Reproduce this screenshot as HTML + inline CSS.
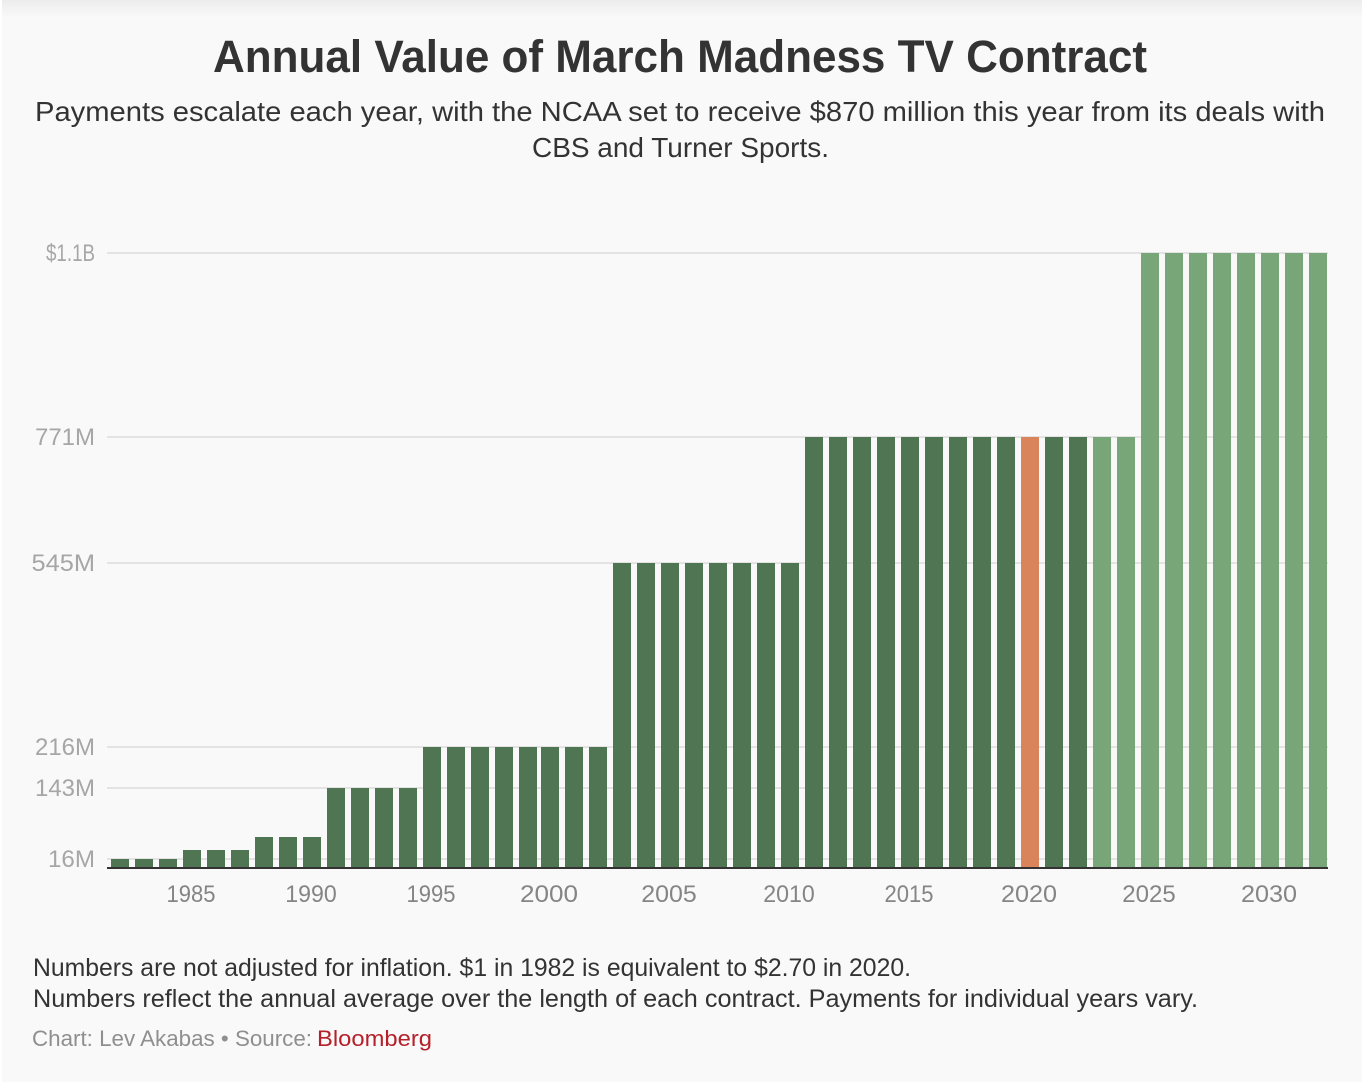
<!DOCTYPE html>
<html lang="en">
<head>
<meta charset="utf-8">
<title>Annual Value of March Madness TV Contract</title>
<style>
html,body{margin:0;padding:0;background:#f9f9f9;}
body{width:1362px;height:1082px;overflow:hidden;position:relative;}
svg{position:absolute;left:0;top:0;display:block;}
text{font-family:"Liberation Sans",sans-serif;}
</style>
</head>
<body>
<svg id="chart" width="1362" height="1082" viewBox="0 0 1362 1082" xmlns="http://www.w3.org/2000/svg">
  <defs>
    <linearGradient id="topShade" x1="0" y1="0" x2="0" y2="1">
      <stop offset="0" stop-color="#ececec"/>
      <stop offset="1" stop-color="#f9f9f9"/>
    </linearGradient>
  </defs>
  <rect x="0" y="0" width="1362" height="1082" fill="#f9f9f9"/>
  <rect x="0" y="0" width="1362" height="18" fill="url(#topShade)"/>
  <rect x="0" y="0" width="2" height="1082" fill="#ffffff"/>

  <text x="680" y="72" text-anchor="middle" font-size="45" font-weight="700" fill="#333333" textLength="934" lengthAdjust="spacingAndGlyphs">Annual Value of March Madness TV Contract</text>
  <text x="680" y="121" text-anchor="middle" font-size="28" fill="#333333" textLength="1290" lengthAdjust="spacingAndGlyphs">Payments escalate each year, with the NCAA set to receive $870 million this year from its deals with</text>
  <text x="680.5" y="157" text-anchor="middle" font-size="28" fill="#333333" textLength="297" lengthAdjust="spacingAndGlyphs">CBS and Turner Sports.</text>

  <g id="grid"></g>
  <g id="bars"></g>
  <rect x="107" y="867" width="1221" height="2" fill="#333333"/>
  <g id="yLabels"></g>
  <g id="xLabels"></g>

  <text x="33" y="976" font-size="25" fill="#333333" textLength="878" lengthAdjust="spacingAndGlyphs">Numbers are not adjusted for inflation. $1 in 1982 is equivalent to $2.70 in 2020.</text>
  <text x="33" y="1007" font-size="25" fill="#333333" textLength="1165" lengthAdjust="spacingAndGlyphs">Numbers reflect the annual average over the length of each contract. Payments for individual years vary.</text>
  <text x="32" y="1046" font-size="22.5" fill="#8f8f8f" textLength="280" lengthAdjust="spacingAndGlyphs">Chart: Lev Akabas • Source:</text>
  <text x="317" y="1046" font-size="22.5" fill="#b5202a" textLength="115" lengthAdjust="spacingAndGlyphs">Bloomberg</text>
</svg>
<script>
var years = [1982,1983,1984,1985,1986,1987,1988,1989,1990,1991,1992,1993,1994,1995,1996,1997,1998,1999,2000,2001,2002,2003,2004,2005,2006,2007,2008,2009,2010,2011,2012,2013,2014,2015,2016,2017,2018,2019,2020,2021,2022,2023,2024,2025,2026,2027,2028,2029,2030,2031,2032];
var payments = [16,16,16,31,31,31,54,54,54,143,143,143,143,216,216,216,216,216,216,216,216,545,545,545,545,545,545,545,545,771,771,771,771,771,771,771,771,771,771,771,771,771,771,1100,1100,1100,1100,1100,1100,1100,1100];
var currentYear = 2020;
var firstFutureYear = 2023;
var yTickValues = [16,143,216,545,771,1100];
var yTickLabels = ["16M","143M","216M","545M","771M","$1.1B"];
var xTickYears = [1985,1990,1995,2000,2005,2010,2015,2020,2025,2030];

var NS = "http://www.w3.org/2000/svg";
var firstYear = years[0];
var barWidth = 18;

// The source chart's band scale steps 24px per year and snaps 2px left at the century.
function xScale(year) {
  return 111 + (year - firstYear) * 24 - (year >= 2000 ? 2 : 0);
}
function yScale(value) {
  return Math.round(867.5 - value * 614.5 / 1100);
}
// Approximate glyph advances of the reference typeface, used to fit tick label widths.
function labelWidth(label) {
  var adv = {"0":15,"1":8.5,"2":13,"3":13,"4":14,"5":12.5,"6":14,"7":13.5,"8":14,"9":14,"M":24.5,"B":14,"$":13,".":5};
  var w = 0;
  String(label).split("").forEach(function (c) { w += adv[c] || 13; });
  return w;
}

var barsG = document.getElementById("bars");
var gridG = document.getElementById("grid");
var yG = document.getElementById("yLabels");
var xG = document.getElementById("xLabels");

yTickValues.forEach(function (v, i) {
  var line = document.createElementNS(NS, "rect");
  line.setAttribute("x", 107);
  line.setAttribute("width", 1221);
  line.setAttribute("y", yScale(v) - 1);
  line.setAttribute("height", 2);
  line.setAttribute("fill", "#e3e3e3");
  
  
  gridG.appendChild(line);

  var t = document.createElementNS(NS, "text");
  var w = labelWidth(yTickLabels[i]);
  t.setAttribute("x", 95 - w);
  t.setAttribute("y", yScale(v) + 8);
  t.setAttribute("font-size", 24.5);
  t.setAttribute("textLength", w);
  t.setAttribute("lengthAdjust", "spacingAndGlyphs");
  t.setAttribute("fill", "#a6a6a6");
  
  
  t.textContent = yTickLabels[i];
  yG.appendChild(t);
});

years.forEach(function (year, i) {
  var r = document.createElementNS(NS, "rect");
  var top = yScale(payments[i]);
  r.setAttribute("x", xScale(year));
  r.setAttribute("y", top);
  r.setAttribute("width", barWidth);
  r.setAttribute("height", 868 - top);
  r.setAttribute("fill", year === currentYear ? "#d9845b" : (year >= firstFutureYear ? "#79a678" : "#507553"));
  
  
  barsG.appendChild(r);
});

xTickYears.forEach(function (year) {
  var t = document.createElementNS(NS, "text");
  var w = labelWidth(year);
  t.setAttribute("x", xScale(year) + barWidth / 2 - 1 - w / 2);
  t.setAttribute("y", 902);
  t.setAttribute("font-size", 24.5);
  t.setAttribute("textLength", w);
  t.setAttribute("lengthAdjust", "spacingAndGlyphs");
  t.setAttribute("fill", "#858585");
  
  
  t.textContent = year;
  xG.appendChild(t);
});
</script>
</body>
</html>
